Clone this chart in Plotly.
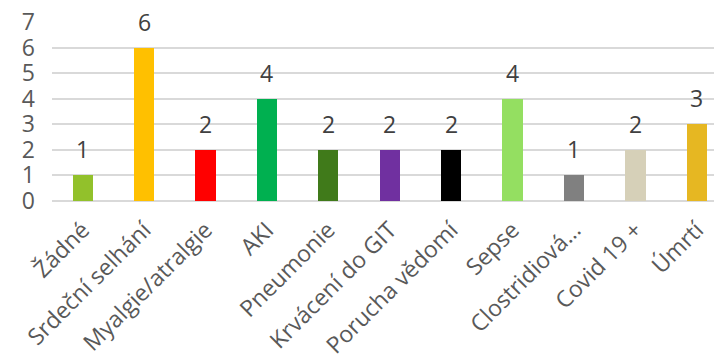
import plotly.graph_objects as go

categories = ["Žádné", "Srdeční selhání", "Myalgie/atralgie", "AKI", "Pneumonie",
              "Krvácení do GIT", "Porucha vědomí", "Sepse", "Clostridiová…",
              "Covid 19 +", "Úmrtí"]
counts = [1, 6, 2, 4, 2, 2, 2, 4, 1, 2, 3]
colors = ["#92C12B", "#FFC000", "#FF0000", "#00B050", "#407A1A", "#7030A0",
          "#000000", "#94DF61", "#808080", "#D6D0B8", "#E6B722"]
y_ticks = [0, 1, 2, 3, 4, 5, 6, 7]

FONT = "Open Sans"

fig = go.Figure()
fig.add_trace(go.Bar(
    x=list(range(len(categories))),
    y=counts,
    marker=dict(color=colors, line=dict(width=0)),
    width=0.33,
    hoverinfo="skip",
))

# value labels above each bar
for i, v in enumerate(counts):
    fig.add_annotation(
        x=i, y=v, text=str(v), showarrow=False,
        yanchor="bottom", yshift=8,
        font=dict(family=FONT, size=23, color="#404040"),
    )

fig.update_layout(
    width=714, height=357,
    margin=dict(l=52, r=0, t=22, b=156, autoexpand=False),
    paper_bgcolor="white", plot_bgcolor="white",
    showlegend=False,
    bargap=0,
)
fig.update_xaxes(
    automargin=False,
    range=[-0.5, 10.28],
    tickmode="array",
    tickvals=list(range(len(categories))),
    ticktext=categories,
    tickangle=-45,
    tickfont=dict(family=FONT, size=23, color="#595959"),
    showgrid=False, zeroline=False,
    showline=False,
    ticks="",
    ticklabelstandoff=10,
)
fig.update_yaxes(
    automargin=False,
    range=[0, 7],
    tickmode="array",
    tickvals=y_ticks,
    tickfont=dict(family=FONT, size=23, color="#595959"),
    showgrid=True, gridcolor="#D9D9D9", gridwidth=1.5,
    zeroline=True, zerolinecolor="#D9D9D9", zerolinewidth=2,
    showline=False,
    ticks="",
    ticklabelstandoff=16,
)

fig.write_html("out.html")
